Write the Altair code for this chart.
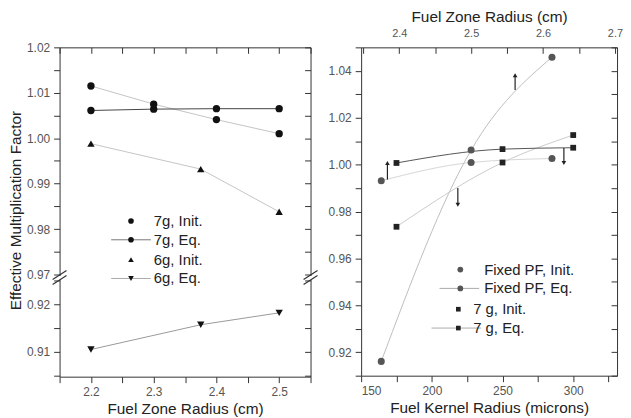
import altair as alt
import pandas as pd

FONT = "Liberation Sans"

# ---------------- data: left panel (Fuel Zone Radius, cm) ----------------
zone_7g = [2.2, 2.3, 2.4, 2.5]
k_7g_init = [1.0115, 1.0075, 1.0041, 1.0010]
k_7g_eq = [1.0061, 1.0064, 1.0065, 1.0065]
zone_6g = [2.2, 2.375, 2.5]
k_6g_init = [0.9988, 0.9932, 0.9838]
k_6g_eq = [0.9105, 0.9157, 0.9182]

# ---------------- data: right panel ----------------
zone_pf = [2.375, 2.5, 2.6125]          # top axis, Fuel Zone Radius (cm)
k_pf_init = [0.9931, 1.0009, 1.0026]
k_pf_eq = [0.9161, 1.0062, 1.0458]
kernel_7g = [175, 250, 300]             # bottom axis, Fuel Kernel Radius (microns)
k_7gk_init = [0.9735, 1.0009, 1.0126]
k_7gk_eq = [1.0007, 1.0066, 1.0072]

arrow_x = [168.6, 258.9, 218.4, 293.4]
arrow_tail = [0.9936, 1.0318, 0.9900, 1.0071]
arrow_head = [1.0007, 1.0381, 0.9829, 1.0007]
arrow_shape = ["triangle-up", "triangle-up", "triangle-down", "triangle-down"]

left_labels = ["7g, Init.", "7g, Eq.", "6g, Init.", "6g, Eq."]
right_labels = ["Fixed PF, Init.", "Fixed PF, Eq.", "7 g, Init.", "7 g, Eq."]

# ---------------- layout ----------------
W_L, H_L = 253, 332
H_TOP, GAP = 230, 4          # upper (broken) segment height and gap
W_R, H_R = 258, 331

def sc(lo, hi, rng=None):
    if rng is None:
        return alt.Scale(domain=[lo, hi], nice=False, zero=False)
    return alt.Scale(domain=[lo, hi], nice=False, zero=False, range=rng)

XL = sc(2.15, 2.55)
YT = sc(0.96978, 1.02, [H_TOP, 0])
YB = sc(0.90479, 0.92521, [H_L, H_TOP + GAP])
XK = sc(150, 331)
XC = sc(2.347, 2.703)
YR = sc(0.91, 1.05)

def steps(lo, hi, st):
    n = int(round((hi - lo) / st))
    return [round(lo + i * st, 4) for i in range(n + 1)]

def lab(mult, fmt):
    return (f"abs(datum.value*{mult} - round(datum.value*{mult})) < 1e-6 ? "
            f"format(datum.value, '{fmt}') : ''")

def df_of(x, y):
    return pd.DataFrame({"x": x, "y": y})

def series(x, y, sx, sy, shape, size, fill, line_color=None, interp="linear", sw=1.0):
    base = alt.Chart(df_of(x, y)).encode(
        x=alt.X("x:Q", scale=sx, axis=None),
        y=alt.Y("y:Q", scale=sy, axis=None))
    out = []
    if line_color:
        out.append(base.mark_line(color=line_color, strokeWidth=sw, interpolate=interp))
    out.append(base.mark_point(shape=shape, size=size, filled=True, color=fill, opacity=1))
    return out

def axis_layer(sx, sy, xaxis=None, yaxis=None):
    d = df_of([sx.domain[0]], [sy.domain[0]])
    return alt.Chart(d).mark_point(opacity=0).encode(
        x=alt.X("x:Q", scale=sx, axis=xaxis),
        y=alt.Y("y:Q", scale=sy, axis=yaxis))

def legend(labels, rows, mx, tx, lx, shapes, sizes, fills, line_colors):
    out = []
    d = pd.DataFrame({"label": labels})
    for i, lb in enumerate(labels):
        dd = d.iloc[[i]]
        if line_colors[i]:
            out.append(alt.Chart(dd).mark_rule(color=line_colors[i], strokeWidth=1).encode(
                x=alt.value(lx[i][0]), x2=alt.value(lx[i][1]), y=alt.value(rows[i])))
        out.append(alt.Chart(dd).mark_point(shape=shapes[i], size=sizes[i], filled=True,
                                             color=fills[i], opacity=1).encode(
            x=alt.value(mx[i]), y=alt.value(rows[i])))
        out.append(alt.Chart(dd).mark_text(align="left", baseline="middle", font=FONT,
                                            fontSize=15, color="#222").encode(
            x=alt.value(tx[i]), y=alt.value(rows[i]), text="label:N"))
    return out

def slashes(xs, yb):
    out = []
    d = pd.DataFrame({"a": [0]})
    for x0 in xs:
        for dy in (-2.5, 2.5):
            out.append(alt.Chart(d).mark_rule(color="#333", strokeWidth=1.2).encode(
                x=alt.value(x0 - 7), x2=alt.value(x0 + 7),
                y=alt.value(yb + dy + 4.5), y2=alt.value(yb + dy - 4.5)))
    return out

# ---------------- axes ----------------
y_top_vals = steps(0.97, 1.02, 0.005)
y_bot_vals = steps(0.905, 0.925, 0.005)
xl_vals = steps(2.15, 2.55, 0.05)
yr_vals = steps(0.91, 1.05, 0.01)
xk_vals = steps(150, 325, 25)
xc_vals = steps(2.35, 2.70, 0.05)

ax_common = dict(tickSize=6, labelPadding=4)
ax_bottom = dict(tickSize=6, labelPadding=4, titlePadding=4)

# ---------------- left panel (broken y axis) ----------------
l_layers = []
l_layers += series(zone_7g, k_7g_init, XL, YT, "circle", 55, "#111", "#c4c4c4")
l_layers += series(zone_7g, k_7g_eq, XL, YT, "circle", 55, "#111", "#444")
l_layers += series(zone_6g, k_6g_init, XL, YT, "triangle-up", 55, "#111", "#c4c4c4")
l_layers += series(zone_6g, k_6g_eq, XL, YB, "triangle-down", 55, "#111", "#999")
l_layers.append(axis_layer(XL, YT, yaxis=alt.Axis(
    orient="left", values=y_top_vals, labelExpr=lab(100, ".2f"),
    title="Effective Multiplication Factor", titleY=164, titlePadding=3, **ax_common)))
l_layers.append(axis_layer(XL, YT, yaxis=alt.Axis(
    orient="left", values=y_top_vals, labels=False, offset=-W_L, title=None, **ax_common)))
l_layers.append(axis_layer(XL, YB, yaxis=alt.Axis(
    orient="left", values=y_bot_vals, labelExpr=lab(100, ".2f"), title=None, **ax_common)))
l_layers.append(axis_layer(XL, YB, yaxis=alt.Axis(
    orient="left", values=y_bot_vals, labels=False, offset=-W_L, title=None, **ax_common)))
l_layers.append(axis_layer(XL, YT, xaxis=alt.Axis(
    orient="bottom", values=xl_vals, labels=False, offset=-H_L, title=None, **ax_common)))
l_layers.append(axis_layer(XL, YB, xaxis=alt.Axis(
    orient="bottom", values=xl_vals, labelExpr=lab(10, ".1f"),
    title="Fuel Zone Radius (cm)", **ax_bottom)))
l_layers += legend(left_labels, [175, 194, 214, 233], [72] * 4, [95] * 4,
                   [None, (52, 92), None, (52, 92)],
                   ["circle", "circle", "triangle-up", "triangle-down"],
                   [32, 32, 32, 32], ["#111"] * 4, [None, "#777", None, "#aaa"])
l_layers += slashes([0, W_L], H_TOP + GAP / 2)
L = alt.layer(*l_layers).resolve_scale(x="independent", y="independent").properties(
    width=W_L, height=H_L)

# ---------------- right panel ----------------
r_layers = []
r_layers += series(zone_pf, k_pf_init, XC, YR, "circle", 50, "#555", "#d6d6d6", "monotone")
r_layers += series(zone_pf, k_pf_eq, XC, YR, "circle", 50, "#555", "#bdbdbd", "monotone")
r_layers += series(kernel_7g, k_7gk_init, XK, YR, "square", 34, "#222", "#cacaca", "monotone")
r_layers += series(kernel_7g, k_7gk_eq, XK, YR, "square", 34, "#222", "#555", "monotone")
arrows = pd.DataFrame({"x": arrow_x, "tail": arrow_tail, "head": arrow_head, "shape": arrow_shape})
r_layers.append(alt.Chart(arrows).mark_rule(color="#222", strokeWidth=1.2).encode(
    x=alt.X("x:Q", scale=XK, axis=None),
    y=alt.Y("tail:Q", scale=YR, axis=None), y2="head:Q"))
r_layers.append(alt.Chart(arrows).mark_point(filled=True, size=22, color="#222", opacity=1).encode(
    x=alt.X("x:Q", scale=XK, axis=None),
    y=alt.Y("head:Q", scale=YR, axis=None),
    shape=alt.Shape("shape:N", scale=None)))
r_layers.append(axis_layer(XK, YR, yaxis=alt.Axis(
    orient="left", values=yr_vals, labelExpr=lab(50, ".2f"), title=None, **ax_common)))
r_layers.append(axis_layer(XK, YR, yaxis=alt.Axis(
    orient="left", values=yr_vals, labels=False, offset=-W_R, title=None, **ax_common)))
r_layers.append(axis_layer(XK, YR, xaxis=alt.Axis(
    orient="bottom", values=xk_vals, labelExpr=lab(0.02, "d"),
    title="Fuel Kernel Radius (microns)", **ax_bottom)))
r_layers.append(axis_layer(XC, YR, xaxis=alt.Axis(
    orient="top", values=xc_vals, labelExpr=lab(10, ".1f"), ticks=False, labelPadding=9,
    labelFontSize=11, title="Fuel Zone Radius (cm)", titlePadding=3)))
r_layers.append(axis_layer(XC, YR, xaxis=alt.Axis(
    orient="bottom", values=xc_vals, labels=False, offset=-H_R, domain=False,
    title=None, **ax_common)))
r_layers += legend(right_labels, [224, 243, 264, 283], [100, 100, 98, 98], [124, 124, 113, 113],
                   [None, (79, 119), None, (71, 121)],
                   ["circle", "circle", "square", "square"],
                   [34, 34, 22, 22], ["#555", "#555", "#222", "#222"],
                   [None, "#aaa", None, "#aaa"])
R = alt.layer(*r_layers).resolve_scale(x="independent", y="independent").properties(
    width=W_R, height=H_R)

chart = alt.hconcat(L, R, spacing=51, bounds="flush").properties(
    padding={"left": 0, "top": 0, "right": 0, "bottom": 0}
).configure_view(stroke=None).configure_axis(
    grid=False, domainColor="#333", tickColor="#333", domainWidth=1, tickWidth=1,
    labelColor="#555", labelFont=FONT, labelFontSize=12,
    titleFont=FONT, titleFontSize=15.5, titleFontWeight="normal", titleColor="#222",
)

chart.save("out.html", embed_options={"renderer": "svg", "actions": False})
